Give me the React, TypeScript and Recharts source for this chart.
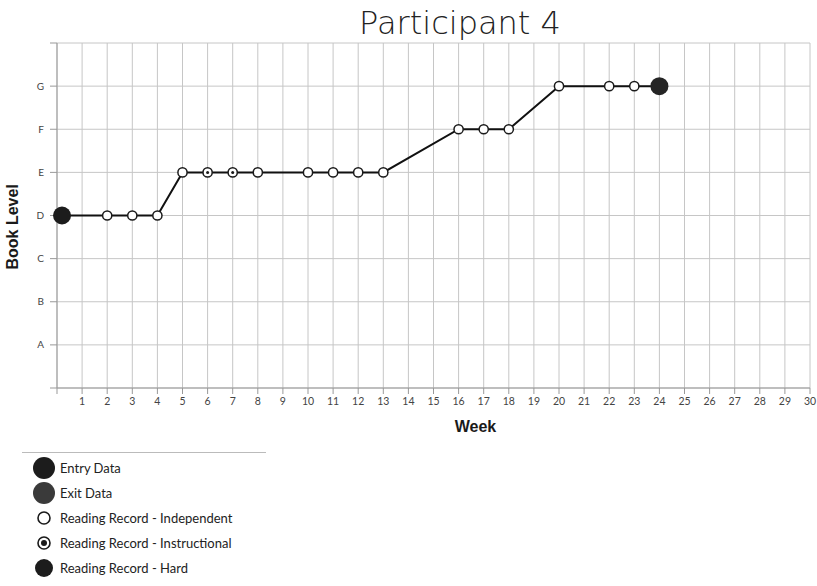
import { ComposedChart, Line, XAxis, YAxis, CartesianGrid } from 'recharts'

// ─── data ─────────────────────────────────────────────────────────────

const LEVELS = ['', 'A', 'B', 'C', 'D', 'E', 'F', 'G', '']
const WEEK_TICKS = Array.from({ length: 31 }, (_, i) => i)

const weeks  = [0.2, 2, 3, 4, 5, 6, 7, 8, 10, 11, 12, 13, 16, 17, 18, 20, 22, 23, 24]
const levels = ['D', 'D', 'D', 'D', 'E', 'E', 'E', 'E', 'E', 'E', 'E', 'E', 'F', 'F', 'F', 'G', 'G', 'G', 'G']
const kinds  = ['entry', 'ind', 'ind', 'ind', 'ind', 'instr', 'instr', 'ind', 'ind', 'ind', 'ind', 'ind',
                'ind', 'ind', 'ind', 'ind', 'ind', 'ind', 'exit']

const legendItems = [
  { kind: 'entry', label: 'Entry Data' },
  { kind: 'exit',  label: 'Exit Data' },
  { kind: 'ind',   label: 'Reading Record - Independent' },
  { kind: 'instr', label: 'Reading Record - Instructional' },
  { kind: 'hard',  label: 'Reading Record - Hard' },
]

const data = weeks.map((w, i) => ({ week: w, level: LEVELS.indexOf(levels[i]), kind: kinds[i] }))

// ─── helpers ──────────────────────────────────────────────────────────

function Marker({ kind, cx, cy }: { kind: string; cx: number; cy: number }) {
  if (kind === 'entry') return <circle cx={cx} cy={cy} r={9} fill="#1c1c1c" />
  if (kind === 'exit')  return <circle cx={cx} cy={cy} r={9} fill="#252525" />
  if (kind === 'hard')  return <circle cx={cx} cy={cy} r={7} fill="#1c1c1c" />
  return (
    <g>
      <circle cx={cx} cy={cy} r={4.6} fill="#fff" stroke="#1a1a1a" strokeWidth={1.5} />
      {kind === 'instr' && <circle cx={cx} cy={cy} r={1.5} fill="#1a1a1a" />}
    </g>
  )
}

function renderDot(p: any) {
  return <Marker key={`d${p.index}`} kind={p.payload.kind} cx={p.cx} cy={p.cy} />
}

function LegendBox() {
  const size: Record<string, number> = { entry: 22, exit: 22, ind: 16, instr: 16, hard: 18 }
  return (
    <div style={{ width: 244, borderTop: '1px solid #bbb', paddingTop: 3, fontFamily: 'Lato, sans-serif', fontSize: 13, color: '#222' }}>
      {legendItems.map((it) => (
        <div key={it.kind} style={{ display: 'flex', alignItems: 'center', height: 24.8 }}>
          <svg width={24} height={24} style={{ marginLeft: 10, marginRight: 4 }}>
            {it.kind === 'ind' || it.kind === 'instr' ? (
              <g>
                <circle cx={12} cy={12} r={6} fill="#fff" stroke="#1a1a1a" strokeWidth={1.6} />
                {it.kind === 'instr' && <circle cx={12} cy={12} r={3} fill="#1a1a1a" />}
              </g>
            ) : (
              <circle cx={12} cy={12} r={size[it.kind] / 2} fill={it.kind === 'exit' ? '#3a3a3a' : '#1c1c1c'} />
            )}
          </svg>
          <span>{it.label}</span>
        </div>
      ))}
    </div>
  )
}

export default function App() {
  return (
    <div style={{ position: 'absolute', left: 0, top: 0, width: 817, height: 586, background: '#fff', overflow: 'hidden' }}>
      <div style={{
        position: 'absolute', left: 280, width: 360, top: 3, textAlign: 'center', lineHeight: '40px',
        fontFamily: '"DejaVu Sans", sans-serif', fontWeight: 200, fontSize: 32, color: '#222',
      }}>
        Participant 4
      </div>
      <div style={{ position: 'absolute', left: 0, top: 0 }}>
        <ComposedChart width={817} height={440} data={data} margin={{ top: 43, right: 7, bottom: 22, left: 0 }}>
          <CartesianGrid stroke="#c6c6c6" strokeWidth={1} />
          <XAxis
            dataKey="week"
            type="number"
            domain={[0, 30]}
            ticks={WEEK_TICKS}
            interval={0}
            tickFormatter={(v: number) => (v === 0 ? '' : String(v))}
            tick={{ fontSize: 10.5, fill: '#444', fontFamily: 'Lato, sans-serif' }}
            tickSize={6}
            tickMargin={4}
            stroke="#999"
            height={30}
            label={{ value: 'Week', position: 'bottom', offset: 3, fontSize: 16, fontWeight: 700, fill: '#1a1a1a', fontFamily: '"Liberation Sans", Arial, sans-serif', dx: 42 }}
          />
          <YAxis
            type="number"
            domain={[0, 8]}
            ticks={[0, 1, 2, 3, 4, 5, 6, 7, 8]}
            interval={0}
            tickFormatter={(v: number) => LEVELS[v]}
            tick={{ fontSize: 10, fill: '#444', fontFamily: 'Lato, sans-serif' }}
            tickSize={7}
            tickMargin={6}
            stroke="#999"
            width={57}
            label={{ value: 'Book Level', angle: -90, position: 'insideLeft', offset: 12, dy: 54, fontSize: 16, fontWeight: 700, fill: '#1a1a1a', fontFamily: '"Liberation Sans", Arial, sans-serif' }}
          />
          <Line
            dataKey="level"
            type="linear"
            stroke="#111"
            strokeWidth={2}
            dot={renderDot}
            activeDot={false}
            isAnimationActive={false}
            legendType="none"
          />
        </ComposedChart>
      </div>
      <div style={{ position: 'absolute', left: 22, top: 452 }}>
        <LegendBox />
      </div>
    </div>
  )
}
